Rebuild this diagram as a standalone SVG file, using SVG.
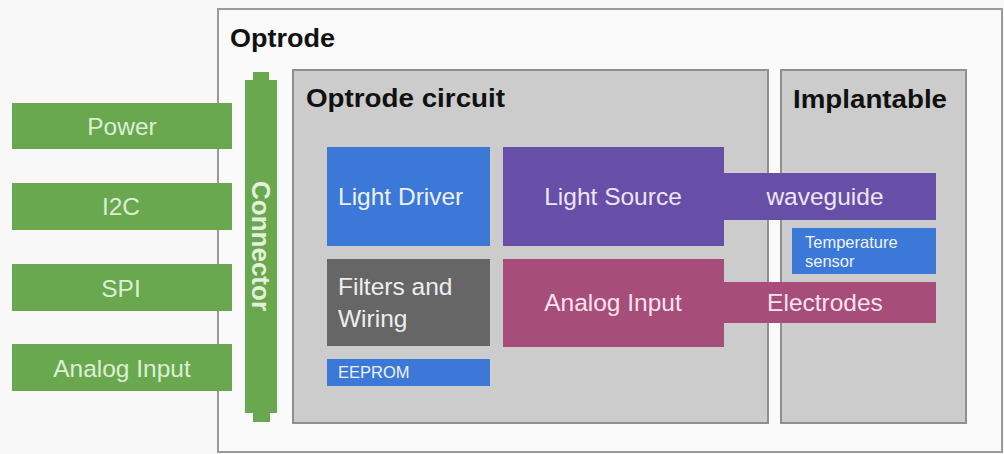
<svg xmlns="http://www.w3.org/2000/svg" width="1004" height="454" viewBox="0 0 1004 454">
  <style>
    .frame { fill: #fafafa; stroke: #9a9a9a; stroke-width: 2; }
    .panel { fill: #cccccc; stroke: #8f8f8f; stroke-width: 2; }
    .green { fill: #6aa84f; }
    .blue { fill: #3c78d8; }
    .purple { fill: #674ea7; }
    .pink { fill: #a64d79; }
    .grey { fill: #666666; }
    .title { font-family: "Liberation Sans", Arial, sans-serif; font-weight: bold; font-size: 26px; fill: #111111; }
    .lbl { font-family: "Liberation Sans", Arial, sans-serif; font-size: 24.5px; }
    .small { font-family: "Liberation Sans", Arial, sans-serif; font-size: 16.5px; }
    .tg { fill: #dcefd4; }
    .tw { fill: #eef2fa; }
    .tp { fill: #ece6f7; }
    .tk { fill: #fbe3ee; }
    .tr { fill: #eeeeee; }
  </style>

  <rect width="1004" height="454" fill="#f8f8f8"/>

  <!-- outer enclosure -->
  <g id="optrode">
    <rect class="frame" x="218" y="9" width="784" height="443"/>
    <text class="title" x="230" y="47" textLength="105" lengthAdjust="spacingAndGlyphs">Optrode</text>
  </g>

  <!-- circuit panel -->
  <g id="optrode-circuit">
    <rect class="panel" x="293" y="70" width="475" height="353"/>
    <text class="title" x="306" y="107" textLength="199" lengthAdjust="spacingAndGlyphs">Optrode circuit</text>
  </g>

  <!-- implantable panel -->
  <g id="implantable">
    <rect class="panel" x="781" y="70" width="185" height="353"/>
    <text class="title" x="793" y="108" textLength="154" lengthAdjust="spacingAndGlyphs">Implantable</text>
  </g>

  <!-- external signals -->
  <g id="power">
    <rect class="green" x="12" y="103" width="220" height="46"/>
    <text class="lbl tg" x="122" y="135" text-anchor="middle">Power</text>
  </g>
  <g id="i2c">
    <rect class="green" x="12" y="183" width="220" height="47"/>
    <text class="lbl tg" x="121" y="215" text-anchor="middle">I2C</text>
  </g>
  <g id="spi">
    <rect class="green" x="12" y="264" width="220" height="47"/>
    <text class="lbl tg" x="121" y="297" text-anchor="middle">SPI</text>
  </g>
  <g id="analog-input-ext">
    <rect class="green" x="12" y="344" width="220" height="47"/>
    <text class="lbl tg" x="122" y="377" text-anchor="middle">Analog Input</text>
  </g>

  <!-- connector bar -->
  <g id="connector">
    <path class="green" d="M253 72 H269 V80 H277 V413 H270 V422 H253 V413 H245 V80 H253 Z"/>
    <text class="title" x="0" y="0" style="fill:#e3f1dc" font-size="25" text-anchor="middle" transform="translate(252 246) rotate(90)">Connector</text>
  </g>

  <!-- circuit blocks -->
  <g id="light-driver">
    <rect class="blue" x="327" y="147" width="163" height="99"/>
    <text class="lbl tw" x="338" y="205">Light Driver</text>
  </g>
  <g id="filters-wiring">
    <rect class="grey" x="327" y="259" width="163" height="87"/>
    <text class="lbl tr" x="338" y="295">Filters and</text>
    <text class="lbl tr" x="338" y="327">Wiring</text>
  </g>
  <g id="eeprom">
    <rect class="blue" x="327" y="359" width="163" height="27"/>
    <text class="small tw" x="338" y="378">EEPROM</text>
  </g>

  <g id="light-source">
    <rect class="purple" x="503" y="147" width="221" height="99"/>
    <text class="lbl tp" x="613" y="205" text-anchor="middle">Light Source</text>
  </g>
  <g id="waveguide">
    <rect class="purple" x="722" y="173" width="214" height="47"/>
    <text class="lbl tp" x="825" y="205" text-anchor="middle">waveguide</text>
  </g>

  <g id="temperature-sensor">
    <rect class="blue" x="792" y="228" width="144" height="46"/>
    <text class="small tw" x="805" y="248">Temperature</text>
    <text class="small tw" x="805" y="267">sensor</text>
  </g>

  <g id="analog-input">
    <rect class="pink" x="503" y="259" width="221" height="88"/>
    <text class="lbl tk" x="613" y="311" text-anchor="middle">Analog Input</text>
  </g>
  <g id="electrodes">
    <rect class="pink" x="722" y="282" width="214" height="41"/>
    <text class="lbl tk" x="825" y="311" text-anchor="middle">Electrodes</text>
  </g>

  <!-- no connector lines in this block diagram -->
  <g id="connectors"/>
</svg>
